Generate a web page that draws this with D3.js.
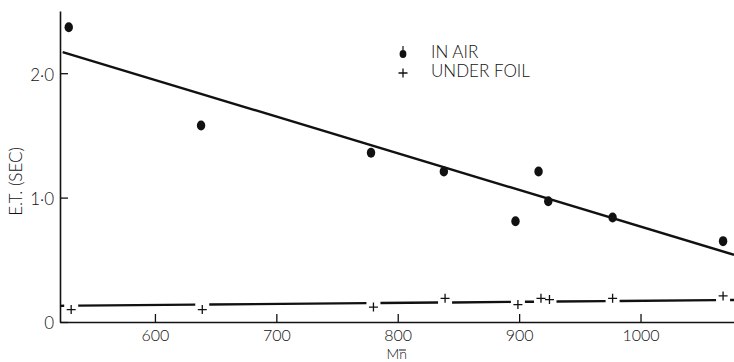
<!DOCTYPE html>
<html>
<head>
<meta charset="utf-8">
<script src="https://cdn.jsdelivr.net/npm/d3@7"></script>
<style>
  body { margin: 0; background: #fff; }
  text { font-family: Lato, "Liberation Sans", sans-serif; font-weight: 300; fill: #111; }
</style>
</head>
<body>
<div class="chart"></div>
<script>
// In air: Mn vs E.T. (sec)
var airMn = [529, 638, 778, 838, 897, 916, 924, 977, 1068];
var airET = [2.37, 1.58, 1.36, 1.21, 0.81, 1.21, 0.97, 0.84, 0.65];
// Under foil
var foilMn = [531, 639, 780, 839, 899, 918, 925, 977, 1068];
var foilET = [0.10, 0.10, 0.12, 0.19, 0.14, 0.19, 0.18, 0.19, 0.21];
// fitted lines, end points
var airFitMn = [524, 1077];
var airFitET = [2.17, 0.54];
var foilFitMn = [522, 1077];
var foilFitET = [0.13, 0.177];
// axes
var xTicks = [600, 700, 800, 900, 1000];
var yTicks = [0, 1, 2];

var width = 734, height = 362;

var svg = d3.select('.chart')
            .append('svg')
            .attr('width', width)
            .attr('height', height);

// Scale
var x = d3.scaleLinear()
          .domain([521.8, 1077])
          .range([60, 734]);

var y = d3.scaleLinear()
          .domain([0, 2.5])
          .range([322, 11]);

// Axes
var x_axis = d3.axisBottom(x)
               .tickValues(xTicks)
               .tickSizeInner(-8)
               .tickSizeOuter(0)
               .tickPadding(8)
               .tickFormat(d3.format('d'));

var y_axis = d3.axisLeft(y)
               .tickValues(yTicks)
               .tickSizeInner(-8)
               .tickSizeOuter(0)
               .tickPadding(6)
               .tickFormat(function(d) { return d === 0 ? '0' : d3.format('.1f')(d).replace('.', '\u00b7'); });

var gx = svg.append('g')
   .attr('transform', 'translate(0,' + y(0) + ')')
   .call(x_axis);

var gy = svg.append('g')
   .attr('transform', 'translate(' + x.range()[0] + ',0)')
   .call(y_axis);

[gx, gy].forEach(function(g) {
  g.select('.domain').attr('stroke', '#111').attr('stroke-width', 1.6);
  g.selectAll('.tick line').attr('stroke', '#111').attr('stroke-width', 1.3);
  g.selectAll('.tick text').attr('font-family', null).style('font-size', '17px');
});
gx.selectAll('.tick text').style('font-size', '16px');
gy.selectAll('.tick text').attr('dy', '0.4em');

// axis titles
svg.append('text')
   .attr('transform', 'translate(22,' + y(1.13) + ') rotate(-90)')
   .attr('text-anchor', 'middle')
   .style('font-size', '17px')
   .text('E.T. (SEC)');

var mn = svg.append('text')
   .attr('x', x(800) - 1)
   .attr('y', 359)
   .attr('text-anchor', 'middle')
   .style('font-size', '14px')
   .text('Mn');
var bb = mn.node().getBBox();
svg.append('line')
   .attr('x1', bb.x + bb.width - 8).attr('x2', bb.x + bb.width - 1)
   .attr('y1', 350).attr('y2', 350)
   .attr('stroke', '#111').attr('stroke-width', 1);

// in air fitted line
var line = d3.line()
             .x(function(d) { return x(d[0]); })
             .y(function(d) { return y(d[1]); });

svg.append('path')
   .datum(d3.zip(airFitMn, airFitET))
   .attr('d', line)
   .attr('fill', 'none')
   .attr('stroke', '#111')
   .attr('stroke-width', 2.4);

// under foil line, broken around each marker
var foilY = d3.scaleLinear().domain(foilFitMn).range(foilFitET);
var gap = 7;
var stops = [x(foilFitMn[0]) - gap].concat(foilMn.map(function(d) { return x(d); })).concat([x(foilFitMn[1]) + gap]);
var segs = [];
for (var i = 0; i < stops.length - 1; i++) {
  var a = stops[i] + gap, b = stops[i + 1] - gap;
  if (b - a > 1) segs.push([x.invert(a), x.invert(b)]);
}
svg.append('g').selectAll('path')
   .data(segs)
   .enter().append('path')
   .attr('d', function(s) { return line([[s[0], foilY(s[0])], [s[1], foilY(s[1])]]); })
   .attr('fill', 'none')
   .attr('stroke', '#111')
   .attr('stroke-width', 2.4);

// in air points
svg.append('g').selectAll('ellipse')
   .data(d3.zip(airMn, airET))
   .enter().append('ellipse')
   .attr('cx', function(d) { return x(d[0]); })
   .attr('cy', function(d) { return y(d[1]); })
   .attr('rx', 4.2)
   .attr('ry', 5)
   .attr('fill', '#111');

// under foil points
function drawPlus(g, cx, cy, s) {
  g.append('path')
   .attr('d', 'M' + (cx - s) + ',' + cy + 'H' + (cx + s) + 'M' + cx + ',' + (cy - s) + 'V' + (cy + s))
   .attr('stroke', '#111')
   .attr('stroke-width', 1.3)
   .attr('fill', 'none');
}
var gp = svg.append('g');
d3.zip(foilMn, foilET).forEach(function(d) { drawPlus(gp, x(d[0]), y(d[1]), 4.5); });

// legend
var lg = svg.append('g');
lg.append('ellipse').attr('cx', 403).attr('cy', 54).attr('rx', 3.4).attr('ry', 4).attr('fill', '#111');
lg.append('line').attr('x1', 403).attr('x2', 403).attr('y1', 46).attr('y2', 50).attr('stroke', '#111').attr('stroke-width', 1.2);
drawPlus(lg, 403, 73, 4.5);
lg.append('text').attr('x', 431).attr('y', 58).style('font-size', '17px').text('IN AIR');
lg.append('text').attr('x', 431).attr('y', 77).style('font-size', '17px').text('UNDER FOIL');
</script>
</body>
</html>
